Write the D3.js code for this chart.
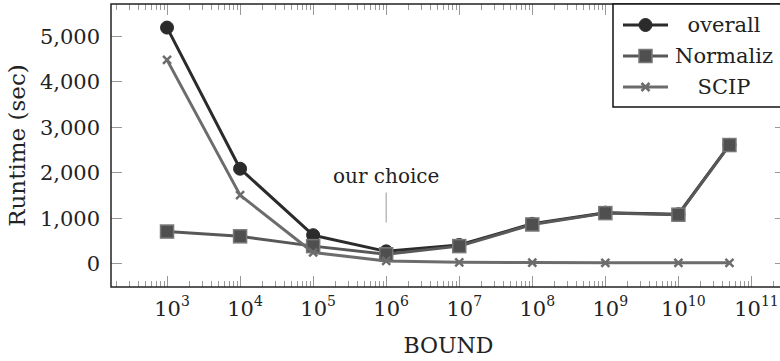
<!DOCTYPE html>
<html>
<head>
<meta charset="utf-8">
<script src="https://cdn.jsdelivr.net/npm/d3@7"></script>
<style>
  body { margin: 0; background: #fff; }
</style>
</head>
<body>
<div id="chart"></div>
<script>
// bounds used for the runs
const bounds = [1e3, 1e4, 1e5, 1e6, 1e7, 1e8, 1e9, 1e10, 5e10];
// runtime in seconds
const overall = [5180, 2080, 620, 265, 405, 870, 1115, 1080, 2605];
const normaliz = [700, 595, 380, 200, 380, 855, 1105, 1070, 2600];
const scip = [4470, 1500, 240, 55, 25, 18, 12, 12, 12];
const yTicks = [0, 1000, 2000, 3000, 4000, 5000];
const xTickExps = [3, 4, 5, 6, 7, 8, 9, 10, 11];
const seriesNames = ["overall", "Normaliz", "SCIP"];
const choice = { bound: 1e6, label: "our choice" };

const width = 780, height = 361;
const mLeft = 111, mRight = 786, mTop = 4, mBottom = 287;
const serif = "'DejaVu Serif', serif";

const svg = d3.select("#chart").append("svg")
    .attr("width", width)
    .attr("height", height)
    .style("font-family", serif);

// pgfplots-like enlarged limits
const x = d3.scaleLog()
    .domain([Math.pow(10, 2.233), Math.pow(10, 11.473)])
    .range([mLeft, mRight]);
const y = d3.scaleLinear()
    .domain([-518, 5698])
    .range([mBottom, mTop]);

function txt(g, size) {
    return g.append("text")
        .style("font-family", serif)
        .style("font-size", size + "px")
        .attr("fill", "#222");
}

// minor / major x ticks on bottom and top
const minor = [];
for (let e = 2; e <= 11; e++) {
    for (let m = 2; m <= 9; m++) {
        const v = m * Math.pow(10, e);
        if (v > x.domain()[0] && v < x.domain()[1]) minor.push(v);
    }
}
const tickG = svg.append("g").attr("stroke", "#999").attr("stroke-width", 1);
minor.forEach(v => {
    const px = Math.round(x(v)) + 0.5;
    tickG.append("line").attr("x1", px).attr("x2", px).attr("y1", mBottom).attr("y2", mBottom - 6);
    tickG.append("line").attr("x1", px).attr("x2", px).attr("y1", mTop).attr("y2", mTop + 6);
});
xTickExps.forEach(e => {
    const px = Math.round(x(Math.pow(10, e))) + 0.5;
    tickG.append("line").attr("x1", px).attr("x2", px).attr("y1", mBottom).attr("y2", mBottom - 11);
    tickG.append("line").attr("x1", px).attr("x2", px).attr("y1", mTop).attr("y2", mTop + 11);
});
yTicks.forEach(v => {
    const py = Math.round(y(v)) + 0.5;
    tickG.append("line").attr("x1", mLeft).attr("x2", mLeft + 11).attr("y1", py).attr("y2", py);
    tickG.append("line").attr("x1", mRight - 11).attr("x2", mRight).attr("y1", py).attr("y2", py);
});

// x tick labels 10^k
const xl = svg.append("g");
xTickExps.forEach(e => {
    const t = txt(xl, 21)
        .attr("x", x(Math.pow(10, e)) + 5)
        .attr("y", 316)
        .attr("text-anchor", "middle");
    t.append("tspan").text("10");
    t.append("tspan").attr("dy", -10).style("font-size", "14px").text(e);
});

// y tick labels
yTicks.forEach(v => {
    txt(svg, 21)
        .attr("x", 100)
        .attr("y", y(v) + 8)
        .attr("text-anchor", "end")
        .text(d3.format(",")(v));
});

// axis titles
txt(svg, 22)
    .attr("x", (mLeft + mRight) / 2)
    .attr("y", 353)
    .attr("text-anchor", "middle")
    .text("BOUND");
txt(svg, 23)
    .attr("transform", "translate(25," + ((mTop + mBottom) / 2) + ") rotate(-90)")
    .attr("text-anchor", "middle")
    .text("Runtime (sec)");

// "our choice" annotation
svg.append("line")
    .attr("x1", x(choice.bound)).attr("x2", x(choice.bound))
    .attr("y1", y(1560)).attr("y2", y(900))
    .attr("stroke", "#aaa").attr("stroke-width", 1.2);
txt(svg, 20)
    .attr("x", x(choice.bound))
    .attr("y", y(1770))
    .attr("text-anchor", "middle")
    .text(choice.label);

// series
const styles = [
    { data: overall, color: "#2b2b2b", mark: "circle" },
    { data: normaliz, color: "#585858", mark: "square" },
    { data: scip, color: "#6c6c6c", mark: "cross" }
];
const line = d3.line().x(d => x(d[0])).y(d => y(d[1]));

function drawMark(g, type, cx, cy, color) {
    if (type === "circle") {
        g.append("circle").attr("cx", cx).attr("cy", cy).attr("r", 6.5)
            .attr("fill", color).attr("stroke", color);
    } else if (type === "square") {
        g.append("rect").attr("x", cx - 6.5).attr("y", cy - 6.5)
            .attr("width", 13).attr("height", 13)
            .attr("fill", "#4f4f4f").attr("stroke", "#777").attr("stroke-width", 1.5);
    } else {
        const s = 4;
        g.append("path")
            .attr("d", `M${cx - s},${cy - s}L${cx + s},${cy + s}M${cx - s},${cy + s}L${cx + s},${cy - s}`)
            .attr("stroke", color).attr("stroke-width", 2.5).attr("fill", "none");
    }
}

styles.forEach(s => {
    const pts = bounds.map((b, i) => [b, s.data[i]]);
    const g = svg.append("g");
    g.append("path")
        .attr("d", line(pts))
        .attr("fill", "none")
        .attr("stroke", s.color)
        .attr("stroke-width", 3)
        .attr("stroke-linejoin", "round");
    pts.forEach(p => drawMark(g, s.mark, x(p[0]), y(p[1]), s.color));
});

// frame
svg.append("rect")
    .attr("x", mLeft).attr("y", mTop)
    .attr("width", mRight - mLeft).attr("height", mBottom - mTop)
    .attr("fill", "none").attr("stroke", "#222").attr("stroke-width", 1.5);

// legend
const lg = svg.append("g");
lg.append("rect")
    .attr("x", 613).attr("y", mTop)
    .attr("width", mRight - 613).attr("height", 103)
    .attr("fill", "#fff").attr("stroke", "#111").attr("stroke-width", 1.5);
seriesNames.forEach((name, i) => {
    const ly = 25 + i * 31;
    lg.append("line")
        .attr("x1", 623).attr("x2", 668).attr("y1", ly).attr("y2", ly)
        .attr("stroke", styles[i].color).attr("stroke-width", 3);
    drawMark(lg, styles[i].mark, 645.5, ly, styles[i].color);
    txt(lg, 21)
        .attr("x", 724).attr("y", ly + 7)
        .attr("text-anchor", "middle")
        .text(name);
});
</script>
</body>
</html>
